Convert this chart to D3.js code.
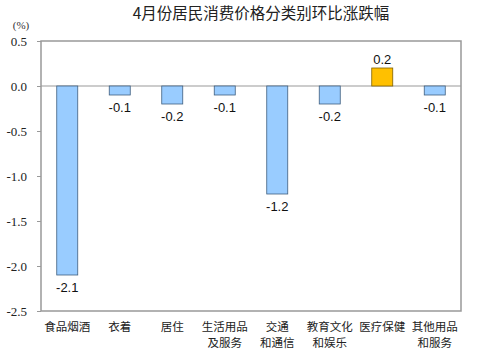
<!DOCTYPE html>
<html>
<head>
<meta charset="utf-8">
<script src="https://cdn.jsdelivr.net/npm/d3@7"></script>
<style>
  body { margin: 0; background: #fff; }
</style>
</head>
<body>
<div id="chart"></div>
<script>
// data
var categories = ["食品烟酒", "衣着", "居住", "生活用品\n及服务", "交通\n和通信", "教育文化\n和娱乐", "医疗保健", "其他用品\n和服务"];
var values = [-2.1, -0.1, -0.2, -0.1, -1.2, -0.2, 0.2, -0.1];
var yTicks = [0.5, 0.0, -0.5, -1.0, -1.5, -2.0, -2.5];

var svgWidth = 479, svgHeight = 363;
var margin = { top: 41, right: 18, bottom: 52, left: 41 };
var width = svgWidth - margin.left - margin.right;
var height = svgHeight - margin.top - margin.bottom;

var svg = d3.select("#chart").append("svg")
    .attr("width", svgWidth)
    .attr("height", svgHeight);

// title
svg.append("text")
    .attr("x", 261).attr("y", 19)
    .attr("text-anchor", "middle")
    .style("font-family", "'Noto Sans CJK SC', sans-serif")
    .style("font-size", "15.5px")
    .style("fill", "#222")
    .text("4月份居民消费价格分类别环比涨跌幅");

svg.append("text")
    .attr("x", 21).attr("y", 29)
    .attr("text-anchor", "middle")
    .style("font-family", "'Liberation Serif', serif")
    .style("font-size", "11px")
    .style("fill", "#333")
    .text("(%)");

var g = svg.append("g")
    .attr("transform", `translate(${margin.left}, ${margin.top})`);

var x = d3.scaleBand().domain(categories).range([0, width]).paddingInner(0.6).paddingOuter(0.3);
var xOuter = d3.scaleBand().domain(categories).range([0, width]);
var y = d3.scaleLinear().domain([-2.5, 0.5]).range([height, 0]);

// frame
g.append("rect")
    .attr("x", 0).attr("y", 0)
    .attr("width", width).attr("height", height)
    .attr("fill", "none")
    .attr("stroke", "#999")
    .attr("stroke-width", 1.5);

// y axis
var yAxis = d3.axisLeft(y).tickValues(yTicks).tickFormat(d3.format(".1f")).tickSize(4).tickPadding(10);
var ya = g.append("g").call(yAxis);
ya.select(".domain").remove();
ya.selectAll("line").attr("stroke", "#999");
ya.selectAll("text")
    .style("font-family", "'Liberation Serif', serif")
    .style("font-size", "13px")
    .style("fill", "#222")
    .text(d => d3.format(".1f")(d).replace("−", "-"));

// zero line
g.append("line")
    .attr("x1", 0).attr("x2", width)
    .attr("y1", y(0)).attr("y2", y(0))
    .attr("stroke", "#999").attr("stroke-width", 1.2);

// bars
g.selectAll("rect.bar")
    .data(values)
    .enter()
    .append("rect")
    .attr("class", "bar")
    .attr("x", (d, i) => x(categories[i]))
    .attr("width", x.bandwidth())
    .attr("y", d => y(Math.max(0, d)))
    .attr("height", d => Math.abs(y(d) - y(0)))
    .attr("fill", d => d > 0 ? "#FFC000" : "#99CCFF")
    .attr("stroke", d => d > 0 ? "#7F6000" : "#3F5F7F")
    .attr("stroke-width", 0.8);

// value labels
g.selectAll("text.val")
    .data(values)
    .enter()
    .append("text")
    .attr("class", "val")
    .attr("x", (d, i) => x(categories[i]) + x.bandwidth() / 2)
    .attr("y", d => d > 0 ? y(d) - 4 : y(d) + 17)
    .attr("text-anchor", "middle")
    .style("font-family", "'Liberation Sans', Arial, sans-serif")
    .style("font-size", "13px")
    .style("fill", "#111")
    .text(d => d3.format(".1f")(d).replace("−", "-"));

// category labels, one text per line
categories.forEach(function(d) {
    var cx = xOuter(d) + xOuter.bandwidth() / 2;
    d.split("\n").forEach(function(l, j) {
        g.append("text")
            .attr("class", "cat")
            .attr("x", cx)
            .attr("y", height + 20 + j * 16)
            .attr("text-anchor", "middle")
            .style("font-family", "'Noto Sans CJK SC', sans-serif")
            .style("font-size", "11.5px")
            .style("fill", "#222")
            .text(l);
    });
});
</script>
</body>
</html>
